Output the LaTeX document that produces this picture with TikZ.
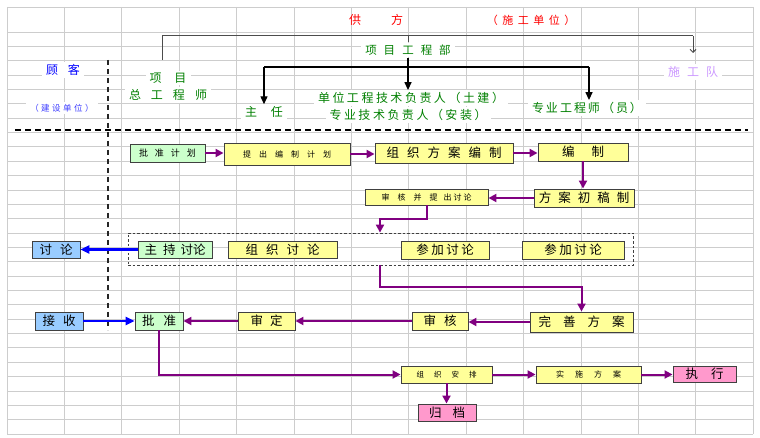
\documentclass[tikz,border=0pt]{standalone}
\usepackage{fontspec}
\setmainfont{Noto Sans CJK SC}
\usetikzlibrary{arrows.meta,calc}
\definecolor{gridc}{RGB}{205,205,205}
\definecolor{fyel}{RGB}{255,255,153}
\definecolor{fgrn}{RGB}{204,255,204}
\definecolor{fblu}{RGB}{153,204,255}
\definecolor{fpnk}{RGB}{255,153,204}
\definecolor{purp}{RGB}{128,0,128}
\definecolor{tgrn}{RGB}{0,128,0}
\definecolor{tred}{RGB}{255,0,0}
\definecolor{tblu}{RGB}{0,0,255}
\definecolor{tblu2}{RGB}{60,60,255}
\definecolor{tlil}{RGB}{204,153,255}
\definecolor{bord}{RGB}{64,64,64}
\newcommand\fsz[1]{\fontsize{#1pt}{#1pt}\selectfont}
\makeatletter
\newcommand\spacedtxt[2]{\begingroup\def\st@sep{}\@tfor\st@c:=#2\do{\st@sep\st@c\def\st@sep{\hspace{#1}}}\endgroup}
\makeatother
\tikzset{
  lbl/.style={fill=white, inner xsep=4pt, inner ysep=2pt},
  box/.style={draw=bord, line width=0.9pt, inner sep=0pt, text=black},
  parr/.style={draw=purp, line width=2pt, -{Triangle[length=8pt,width=8pt]}},
  barr/.style={draw=tblu, line width=2.2pt, -{Triangle[length=9pt,width=8pt]}},
  karr/.style={draw=black, line width=1.3pt, -{Triangle[length=8pt,width=7pt]}},
  gline/.style={draw=black!70, line width=1pt},
}
\begin{document}
\begin{tikzpicture}[x=1pt,y=-1pt]
\fill[white] (0,0) rectangle (760,438);
\useasboundingbox (0,0) rectangle (760,438);
% grid
\foreach \k in {0,...,13} \draw[gridc, line width=0.8pt] ({7+57.4*\k},7) -- ({7+57.4*\k},434);
\draw[gridc, line width=0.8pt] (7,7) -- (753,7);
\foreach \k in {0,...,28} \draw[gridc, line width=0.8pt] (7,{32+14.357*\k}) -- (753,{32+14.357*\k});

% header labels
\node[text=tred] (gf) at (376,20) {\fsz{12}供\hspace{30pt}方};
\node[text=tred] (sgdw) at (531,20) {\fsz{11}\spacedtxt{4.5pt}{（施工单位）}};
\node[lbl,text=tgrn] (xmgcb) at (408,50) {\fsz{11.5}\spacedtxt{7pt}{项目工程部}};
\node[lbl,text=tblu] (gk) at (63,70) {\fsz{12}\spacedtxt{10pt}{顾客}};
\node[lbl,text=tblu2] (jsdw) at (62,108) {\fsz{8.5}\spacedtxt{2.5pt}{（建设单位）}};
\node[lbl,text=tgrn] (xm) at (168,78) {\fsz{12}\spacedtxt{13pt}{项目}};
\node[lbl,text=tgrn] (zgcs) at (168,95) {\fsz{12}\spacedtxt{10pt}{总工程师}};
\node[lbl,text=tgrn] (zr) at (264,112) {\fsz{12}\spacedtxt{14pt}{主任}};
\node[lbl,text=tgrn] (dw1) at (411,98) {\fsz{12}\spacedtxt{2.5pt}{单位工程技术负责人（土建）}};
\node[lbl,text=tgrn] (dw2) at (408,115) {\fsz{12}\spacedtxt{2.5pt}{专业技术负责人（安装）}};
\node[lbl,text=tgrn] (zygcs) at (587,108) {\fsz{12}\spacedtxt{2pt}{专业工程师（员）}};
\node[lbl,text=tlil] (sgd) at (693,72) {\fsz{12}\spacedtxt{7pt}{施工队}};

% header connectors
\coordinate (b1) at (162,60);
\coordinate (b2) at (162,36);
\coordinate (b3) at (693,36);
\coordinate (b4) at (693,53);
\draw[gline] (b1) -- (b2) -- (b3);
\draw[gline,-{Straight Barb[length=3pt,width=6pt]}] (b3) -- (b4);
\draw[gline] (xmgcb.north |- b2) -- (xmgcb.north);
\coordinate (c3) at (264,67);
\coordinate (c4) at (589,67);
\draw[black, line width=1.2pt] (c3) -- (c4);
\draw[karr] (c3) -- (c3 |- zr.north);
\draw[karr] (c4) -- (c4 |- zygcs.north);
\draw[karr] (xmgcb.south) -- (xmgcb.south |- dw1.north);

% dividers
\draw[black!85, line width=1.2pt, dash pattern=on 5pt off 4pt] (108,60) -- (108,330);
\draw[black, line width=2.6pt, dash pattern=on 6pt off 4pt] (15,130) -- (748,130);

% dashed group box
\node[draw=bord, line width=0.8pt, dash pattern=on 2.5pt off 2pt, minimum width=505pt, minimum height=32pt, inner sep=0pt] (dbox) at (380.5,249) {};

% flow boxes
\node[box,fill=fgrn,minimum width=75pt,minimum height=18pt] (pjh) at (167.5,153) {\fsz{9}\spacedtxt{7pt}{批准计划}};
\node[box,fill=fyel,minimum width=126pt,minimum height=22pt] (tcbz) at (287,154) {\fsz{8}\spacedtxt{8pt}{提出编制计划}};
\node[box,fill=fyel,minimum width=138pt,minimum height=20pt] (zzfa) at (444,153) {\fsz{12.5}\spacedtxt{8pt}{组织方案编制}};
\node[box,fill=fyel,minimum width=90pt,minimum height=18pt] (bz) at (583,152) {\fsz{12.5}\spacedtxt{17pt}{编制}};
\node[box,fill=fyel,minimum width=100pt,minimum height=18pt] (facg) at (584,198) {\fsz{12.5}\spacedtxt{7pt}{方案初稿制}};
\node[box,fill=fyel,minimum width=123pt,minimum height=16pt] (shbt) at (426.5,197) {\fsz{8}审\hspace{8pt}核\hspace{8pt}并\hspace{8pt}提\hspace{6pt}出\hspace{2pt}讨\hspace{2pt}论};
\node[box,fill=fgrn,minimum width=74pt,minimum height=17pt] (zctl) at (175,249.5) {\fsz{12.5}主\hspace{6pt}持\hspace{5pt}讨论};
\node[box,fill=fyel,minimum width=109pt,minimum height=17pt] (zztl) at (282.5,249.5) {\fsz{12.5}\spacedtxt{8pt}{组织讨论}};
\node[box,fill=fyel,minimum width=88pt,minimum height=18pt] (cj1) at (445,250) {\fsz{12.5}\spacedtxt{2.5pt}{参加讨论}};
\node[box,fill=fyel,minimum width=102pt,minimum height=18pt] (cj2) at (573,250) {\fsz{12.5}\spacedtxt{2.5pt}{参加讨论}};
\node[box,fill=fblu,minimum width=48pt,minimum height=17pt] (tl) at (56,249.5) {\fsz{12.5}\spacedtxt{8pt}{讨论}};
\node[box,fill=fyel,minimum width=103pt,minimum height=20pt] (wsfa) at (581.5,322) {\fsz{12.5}\spacedtxt{12pt}{完善方案}};
\node[box,fill=fyel,minimum width=56pt,minimum height=18pt] (sh) at (440,321) {\fsz{12.5}\spacedtxt{8pt}{审核}};
\node[box,fill=fyel,minimum width=57pt,minimum height=18pt] (sd) at (266.5,321) {\fsz{12.5}\spacedtxt{7pt}{审定}};
\node[box,fill=fgrn,minimum width=48pt,minimum height=18pt] (pz) at (159,321) {\fsz{12.5}\spacedtxt{9pt}{批准}};
\node[box,fill=fblu,minimum width=48pt,minimum height=18pt] (js) at (59,321) {\fsz{12.5}\spacedtxt{8pt}{接收}};
\node[box,fill=fyel,minimum width=91pt,minimum height=17pt] (zzap) at (446.5,374.5) {\fsz{7.5}\spacedtxt{10pt}{组织安排}};
\node[box,fill=fyel,minimum width=105pt,minimum height=17pt] (ssfa) at (588.5,374.5) {\fsz{8}\spacedtxt{11pt}{实施方案}};
\node[box,fill=fpnk,minimum width=63pt,minimum height=16pt] (zx) at (704.5,374) {\fsz{12.5}\spacedtxt{13pt}{执行}};
\node[box,fill=fpnk,minimum width=58pt,minimum height=17pt] (gd) at (447,412.5) {\fsz{12.5}\spacedtxt{11pt}{归档}};

% flow connectors
\draw[parr] (pjh.east) -- (pjh.east -| tcbz.west);
\draw[parr] (tcbz.east) -- (tcbz.east -| zzfa.west);
\draw[parr] (zzfa.east) -- (zzfa.east -| bz.west);
\draw[parr] (bz.south) -- (bz.south |- facg.north);
\draw[parr] (facg.west) -- (facg.west -| shbt.east);
\coordinate (c1) at (380,219);
\draw[parr] (shbt.south) |- (c1) -- (c1 |- dbox.north);
\draw[barr] (zctl.west) -- (tl.east);
\coordinate (c2) at (380,287);
\draw[parr] (c2 |- dbox.south) -- (c2) -| (wsfa.north);
\draw[parr] (wsfa.west) -- (wsfa.west -| sh.east);
\draw[parr] (sh.west) -- (sd.east);
\draw[parr] (sd.west) -- (pz.east);
\draw[barr] (js.east) -- (pz.west);
\draw[parr] (pz.south) |- (zzap.west);
\draw[parr] (zzap.east) -- (ssfa.west);
\draw[parr] (ssfa.east) -- (ssfa.east -| zx.west);
\draw[parr] (zzap.south) -- (zzap.south |- gd.north);
\end{tikzpicture}
\end{document}
